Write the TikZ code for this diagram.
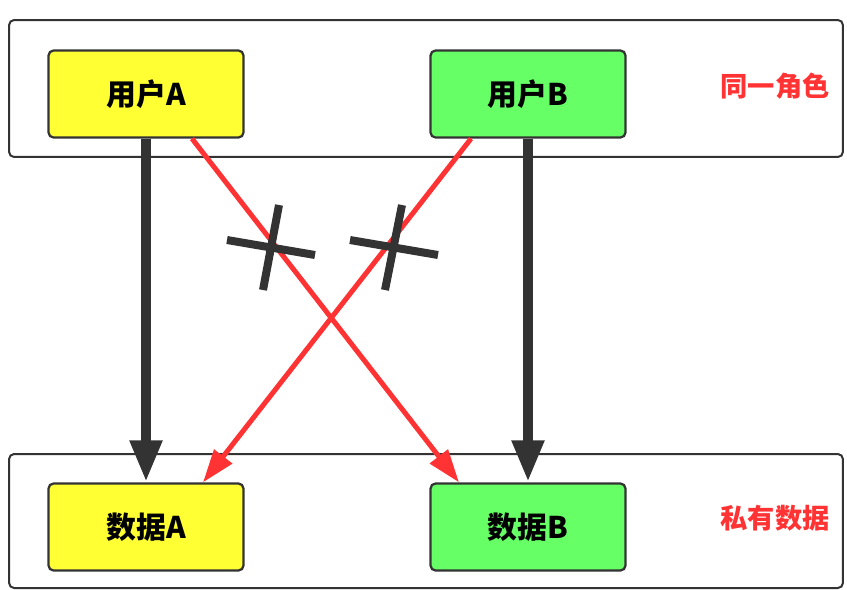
\documentclass[tikz,border=0pt]{standalone}
\usepackage{fontspec}
\usepackage{tikz}
\usetikzlibrary{arrows.meta}
\newfontfamily\cjk{Noto Sans CJK SC}
\definecolor{niceyellow}{RGB}{255, 255, 51}
\definecolor{nicegreen}{RGB}{102, 255, 102}
\definecolor{nicered}{RGB}{255, 51, 51}
\definecolor{dgray}{RGB}{51, 51, 51}

\begin{document}
\begin{tikzpicture}[x = 0.02cm, y = -0.02cm,
	frame/.style = {draw = dgray, line width = 0.04cm, rounded corners = 0.1cm, minimum width = 16.68cm},
	box/.style = {draw = dgray, line width = 0.045cm, rounded corners = 0.1cm, minimum width = 3.9cm, minimum height = 1.74cm, font = \cjk\bfseries\fontsize{17}{20}\selectfont},
	tag/.style = {text = nicered, font = \cjk\bfseries\fontsize{15.5}{18}\selectfont},
	strong/.style = {dgray, line width = 0.21cm, -{Triangle[length = 0.84cm, width = 0.6cm]}},
	wrong/.style = {nicered, line width = 0.1cm, -{Triangle[length = 0.66cm, width = 0.44cm]}},
	xbar/.style = {dgray, line width = 0.16cm}]
			\useasboundingbox (0,0) rectangle (847,589);
			\node (roles) at (426,88.5) [frame, minimum height = 2.74cm] {};
			\node (owned) at (426,521) [frame, minimum height = 2.68cm] {};
			\node (ua) at (146,94) [box, fill = niceyellow] {用户A};
			\node (ub) at (528,94) [box, fill = nicegreen] {用户B};
			\node (da) at (146,527) [box, fill = niceyellow] {数据A};
			\node (db) at (528,527) [box, fill = nicegreen] {数据B};
			\node (rl) at (775,86) [tag] {同一角色};
			\node (pd) at (775,518) [tag] {私有数据};
			\draw [strong] (ua) -- (da);
			\draw [strong] (ub) -- (db);
			\draw [wrong] ([xshift = 0.92cm]ua.south) -- ([xshift = -1.38cm]db.north);
			\draw [wrong] ([xshift = -1.14cm]ub.south) -- ([xshift = 1.14cm]da.north);
			\draw [xbar] (227,240) -- (315,255);
			\draw [xbar] (279,205) -- (263,290);
			\draw [xbar] (350,240) -- (438,255);
			\draw [xbar] (402,205) -- (385,290);
\end{tikzpicture}
\end{document}
